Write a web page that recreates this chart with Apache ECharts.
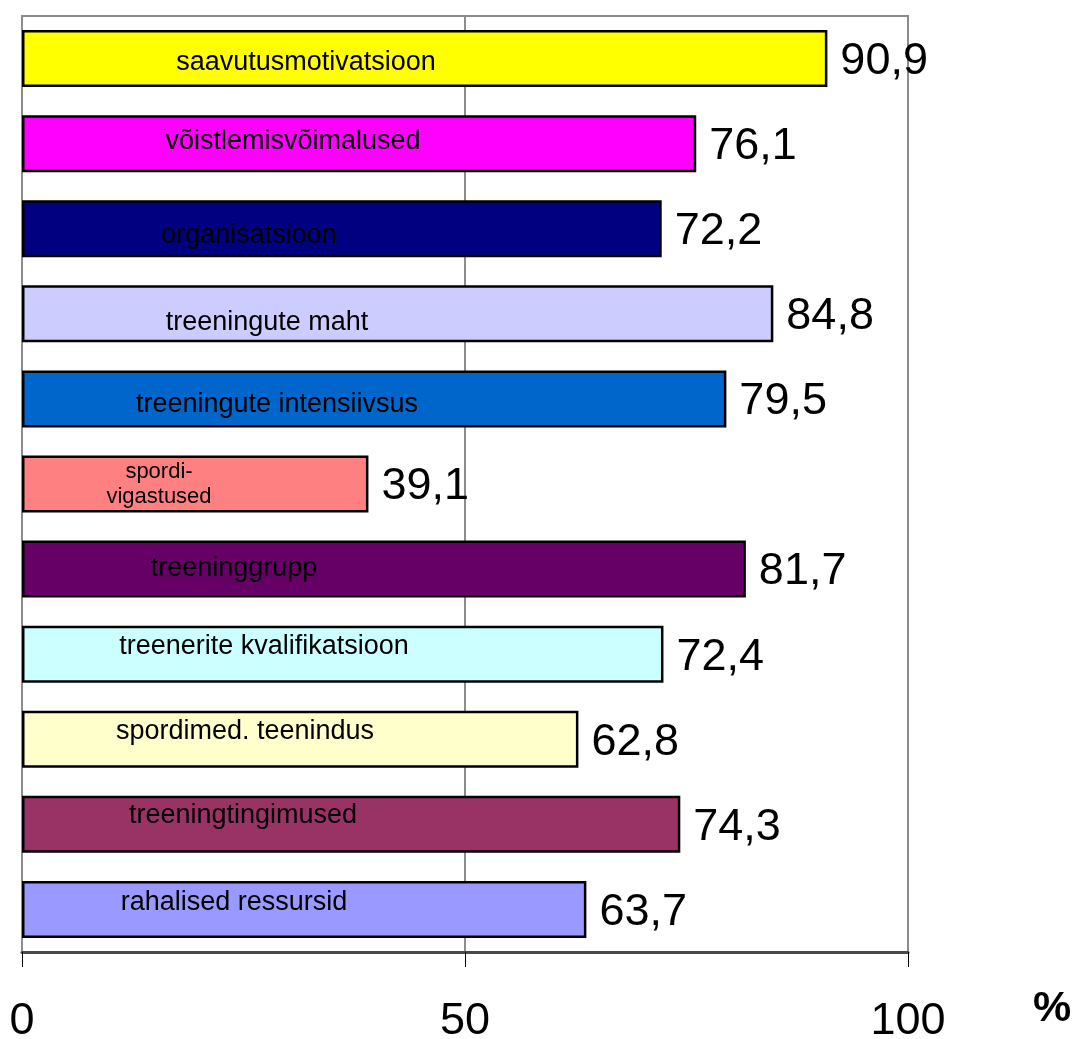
<!DOCTYPE html>
<html>
<head>
<meta charset="utf-8">
<script src="https://cdn.jsdelivr.net/npm/echarts@6/dist/echarts.min.js"></script>
<style>
html,body{margin:0;padding:0;background:#fff;}
#chart{width:1074px;height:1039px;}
</style>
</head>
<body>
<div id="chart"></div>
<script>
// ---- data ----
const categories = [
  'saavutusmotivatsioon',
  'võistlemisvõimalused',
  'organisatsioon',
  'treeningute maht',
  'treeningute intensiivsus',
  'spordi-\nvigastused',
  'treeninggrupp',
  'treenerite kvalifikatsioon',
  'spordimed. teenindus',
  'treeningtingimused',
  'rahalised ressursid'
];
const values = [90.9, 76.1, 72.2, 84.8, 79.5, 39.1, 81.7, 72.4, 62.8, 74.3, 63.7];
const xTicks = [0, 50, 100];

// ---- styles ----
const barColors = ['#FFFF00', '#FF00FF', '#000080', '#CCCCFF', '#0066CC', '#FF8080',
                   '#660066', '#CCFFFF', '#FFFFCC', '#993366', '#9999FF'];
// inner label anchor (x from bar start, y shift from bar middle)
const labelX = [284, 271, 227, 245, 255, 137, 212, 242, 223, 221, 212];
const labelDy = [4, -2, 7, 9, 6, 0, -1, -8, -8, -9, -7];
const FONT = "'Liberation Sans', Arial, sans-serif";

const chart = echarts.init(document.getElementById('chart'), null, {renderer: 'canvas'});

const barData = values.map((v, i) => ({
  value: v,
  itemStyle: {color: barColors[i]}
}));
const nameData = values.map((v, i) => ({
  value: v,
  label: {
    position: [labelX[i], '50%'],
    offset: [0, labelDy[i]],
    fontSize: i === 5 ? 22 : 27,
    lineHeight: i === 5 ? 25 : 30
  }
}));

chart.setOption({
  animation: false,
  backgroundColor: '#ffffff',
  title: {
    text: '%',
    left: 1028,
    top: 983,
    textStyle: {fontFamily: FONT, fontSize: 43, fontWeight: 'bold', color: '#000'}
  },
  grid: {
    left: 22, right: 166, top: 16, bottom: 87,
    containLabel: false,
    outerBoundsMode: 'none',
    show: true, borderColor: '#8c8c8c', borderWidth: 2, backgroundColor: 'transparent'
  },
  xAxis: {
    type: 'value',
    min: xTicks[0], max: xTicks[xTicks.length - 1], interval: 50,
    axisLine: {show: true, lineStyle: {color: '#4a4a4a', width: 3}},
    axisTick: {show: true, length: 15, lineStyle: {color: '#000', width: 1}},
    splitLine: {show: true, lineStyle: {color: '#8c8c8c', width: 2}},
    axisLabel: {
      margin: 47, fontSize: 45, color: '#000', fontFamily: FONT,
      formatter: v => xTicks.includes(v) ? String(v) : ''
    }
  },
  yAxis: {
    type: 'category',
    data: categories,
    inverse: true,
    axisLine: {show: false},
    axisTick: {show: false},
    axisLabel: {show: false},
    splitLine: {show: false}
  },
  series: [
    {
      type: 'bar',
      data: barData,
      barCategoryGap: '33%',
      itemStyle: {borderColor: '#000', borderWidth: 2.5},
      label: {
        show: true,
        position: 'right',
        distance: 13,
        offset: [0, 3],
        fontSize: 45,
        fontFamily: FONT,
        color: '#000',
        formatter: p => String(p.value).replace('.', ',')
      },
      z: 3
    },
    {
      type: 'bar',
      data: nameData,
      barGap: '-100%',
      barCategoryGap: '33%',
      itemStyle: {color: 'transparent', borderWidth: 0},
      label: {
        show: true,
        align: 'center',
        verticalAlign: 'middle',
        fontFamily: FONT,
        color: '#000',
        formatter: p => categories[p.dataIndex]
      },
      silent: true,
      z: 4
    }
  ]
});
</script>
</body>
</html>
